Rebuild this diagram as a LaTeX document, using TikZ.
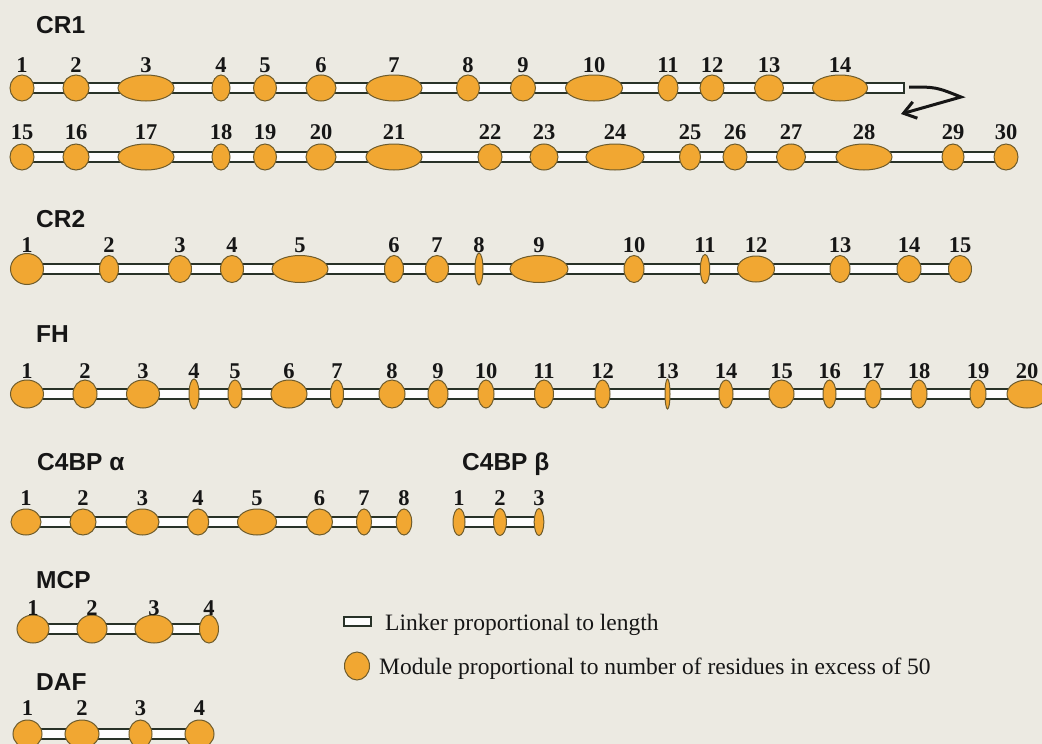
\documentclass[tikz,border=0pt]{standalone}
\usepackage{fontspec}
\setmainfont{Liberation Serif}
\setsansfont{Liberation Sans}
\usetikzlibrary{shapes.geometric,calc,arrows.meta}
\pgfdeclarelayer{back}
\pgfdeclarelayer{bg}
\pgfsetlayers{back,bg,main}
\definecolor{paper}{RGB}{236,234,226}
\definecolor{modfill}{RGB}{241,167,50}
\definecolor{modline}{RGB}{110,92,45}
\definecolor{ink}{RGB}{22,22,22}
\definecolor{linkline}{RGB}{40,50,40}

\tikzset{
  module/.style={ellipse, fill=modfill, draw=modline, line width=1pt, inner sep=0pt, outer sep=0pt},
  linker/.style={draw=linkline, fill=white!92!paper, line width=2pt},
  num/.style={font=\bfseries\fontsize{22.5}{24}\selectfont, text=ink, anchor=base, inner sep=0pt},
  title/.style={font=\sffamily\bfseries\fontsize{24.5}{26}\selectfont, text=ink, anchor=base west, inner sep=0pt},
  legendtext/.style={font=\fontsize{23.5}{26}\selectfont, text=ink, anchor=base west, inner sep=0pt},
  wrap/.style={draw=ink, line width=3pt, -{Straight Barb[length=12pt,width=17pt]}},
}

% One protein: modules (ellipses) with their numbers, joined by linkers.
% #1 name prefix, #2 module centre y, #3 number baseline y,
% #4 offset added to the module count, #5 list of x/rx/ry
\newcommand\proteinrow[5]{%
  \foreach \x/\r/\h [count=\i] in {#5} {
    \pgfmathtruncatemacro\n{\i+#4}
    \node[module, minimum width=2*\r, minimum height=2*\h] (#1-\i) at (\x,#2) {};
    \node[num] (#1-n\i) at (\x,#3) {\n};
    \ifnum\i>1
      \pgfmathtruncatemacro\prevmod{\i-1}
      \begin{pgfonlayer}{bg}
        \draw[linker] ($(#1-\prevmod.east)+(-2,-5)$) rectangle ($(#1-\i.west)+(2,5)$);
      \end{pgfonlayer}
    \fi
  }%
}

\begin{document}
\begin{tikzpicture}[x=1pt,y=-1pt]
\begin{pgfonlayer}{back}
  \fill[paper] (0,0) rectangle (1042,744);
\end{pgfonlayer}
\useasboundingbox (0,0) rectangle (1042,744);

% protein names
\node[title] (t-cr1) at (36,34) {CR1};
\node[title] (t-cr2) at (36,227) {CR2};
\node[title] (t-fh)  at (36,342) {FH};
\node[title] (t-c4a) at (37,470) {C4BP α};
\node[title] (t-c4b) at (462,470) {C4BP β};
\node[title] (t-mcp) at (36,588) {MCP};
\node[title] (t-daf) at (36,690) {DAF};

% CR1, first line
\proteinrow{cra}{88}{72}{0}{22/12/13, 76/13/13, 146/28/13, 221/9/13, 265/11.5/13,
  321/15/13, 394/28/13, 468/11.5/13, 523/12.5/13, 594/28.5/13, 668/10/13,
  712/12/13, 769/14.5/13, 840/27.5/13}
\coordinate (cra-end) at (904,88);
\begin{pgfonlayer}{bg}
  \draw[linker] ($(cra-14.east)+(-2,-5)$) rectangle ($(cra-end)+(0,5)$);
\end{pgfonlayer}
\coordinate (wrap-start) at (909,87);
\coordinate (wrap-turn) at (961,97);
\coordinate (wrap-tip) at (901,114);
\draw[wrap] (wrap-start) .. controls (936,87) .. (wrap-turn) -- (wrap-tip);

% CR1, second line
\proteinrow{crb}{157}{139}{14}{22/12/13, 76/13/13, 146/28/13, 221/9/13, 265/11.5/13,
  321/15/13, 394/28/13, 490/12/13, 544/14/13, 615/29/13, 690/10.5/13,
  735/12/13, 791/14.5/13, 864/28/13, 953/11/13, 1006/12/13}

% CR2
\proteinrow{crt}{269}{252}{0}{27/16.5/15.5, 109/9.5/13.5, 180/11.5/13.5, 232/11.5/13.5, 300/28/13.5,
  394/9.5/13.5, 437/11.5/13.5, 479/4/16, 539/29/13.5, 634/10/13.5, 705/4.7/14.5, 756/18.5/13,
  840/10/13.5, 909/12/13.5, 960/11.5/13.5}

% FH
\proteinrow{fh}{394}{378}{0}{27/16.5/14, 85/12/14, 143/16.5/14, 194/5/15, 235/7/14,
  289/18/14, 337/6.5/14, 392/13/14, 438/10/14, 486/8/14, 544/9.5/14,
  602.5/7.5/14, 667.5/2.5/15, 726/7/14, 781.5/12.5/14, 829.5/6.5/14,
  873/8/14, 919/8/14, 978/8/14, 1027/20/14}

% C4BP alpha and beta
\proteinrow{ca}{522}{505}{0}{26/15/13, 83/13/13, 142.5/16.5/13, 198/10.7/13,
  257/19.5/13, 319.5/13/13, 364/7.5/13, 404/7.8/13}
\proteinrow{cb}{522}{505}{0}{459/6/13.5, 500/6.4/13.5, 539/4.8/13.5}

% MCP
\proteinrow{mcp}{629}{615}{0}{33/16/14, 92/15/14, 154/19/14, 209/9.5/14}

% DAF
\proteinrow{daf}{734}{715}{0}{27.5/14.5/14, 82/17/14, 140.5/11.5/14, 199.5/14.5/14}

% key
\node[draw=linkline, fill=white!92!paper, line width=1.8pt, inner sep=0pt, outer sep=0pt,
      minimum width=27, minimum height=9] (key-linker) at (357.5,621.5) {};
\node[legendtext] (key-linker-text) at (385,630) {Linker proportional to length};
\node[module, minimum width=25, minimum height=28] (key-module) at (357,666) {};
\node[legendtext] (key-module-text) at (379,674) {Module proportional to number of residues in excess of 50};
\end{tikzpicture}
\end{document}
